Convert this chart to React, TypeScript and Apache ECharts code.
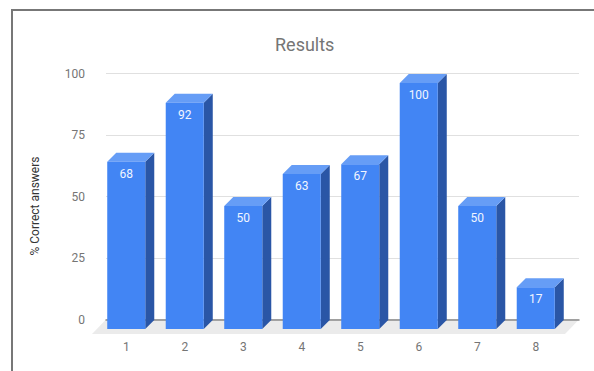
import React, { useEffect, useRef } from "react";
import * as echarts from "echarts";

const categories = ["1", "2", "3", "4", "5", "6", "7", "8"];
const values = [68, 92, 50, 63, 67, 100, 50, 17];
const yTicks = { min: 0, max: 100, interval: 25 };
const titleText = "Results";
const yAxisTitle = "% Correct answers";

const FRONT = "#4285f4";
const TOP = "#669df6";
const SIDE = "#2a56a6";
const DEPTH = 9;

export default function App() {
  const ref = useRef<HTMLDivElement>(null);
  useEffect(() => {
    if (!ref.current) return;
    const chart = echarts.init(ref.current, undefined, { renderer: "svg" });
    const font = "Roboto, Arial, sans-serif";
    chart.setOption({
      animation: false,
      backgroundColor: "#ffffff",
      textStyle: { fontFamily: font },
      title: {
        text: titleText,
        left: 270,
        top: 30,
        textStyle: { fontFamily: font, fontSize: 18, fontWeight: "normal", color: "#757575" },
      },
      graphic: [
        {
          type: "polygon",
          z: -5,
          silent: true,
          shape: { points: [[106, 319.5], [579, 319.5], [565, 334], [92, 334]] },
          style: { fill: "#ebebeb" },
        },
        {
          type: "line",
          z: 10,
          silent: true,
          shape: { x1: 11, y1: 10, x2: 600, y2: 10 },
          style: { stroke: "#777777", lineWidth: 2 },
        },
        {
          type: "line",
          z: 10,
          silent: true,
          shape: { x1: 12, y1: 9, x2: 12, y2: 380 },
          style: { stroke: "#777777", lineWidth: 2 },
        },
      ],
      grid: [
        { left: 106, right: 15, top: 73.5, bottom: 51.5 },
        { left: 97, right: 29, top: 83, bottom: 42 },
      ],
      xAxis: [
        {
          type: "category",
          gridIndex: 0,
          data: categories,
          axisLabel: { show: false },
          axisTick: { show: false },
          axisLine: { show: true, lineStyle: { color: "#8a8a8a", width: 1.5 } },
        },
        {
          type: "category",
          gridIndex: 1,
          data: categories,
          axisLine: { show: false },
          axisTick: { show: false },
          axisLabel: { color: "#757575", fontSize: 12, margin: 12, fontFamily: font },
        },
      ],
      yAxis: [
        {
          type: "value",
          gridIndex: 0,
          min: yTicks.min,
          max: yTicks.max,
          interval: yTicks.interval,
          axisLine: { show: false },
          axisTick: { show: false },
          axisLabel: { color: "#757575", fontSize: 12, margin: 21, fontFamily: font },
          splitLine: { lineStyle: { color: "#e0e0e0", width: 1 } },
        },
        {
          type: "value",
          gridIndex: 1,
          min: yTicks.min,
          max: yTicks.max,
          interval: yTicks.interval,
          name: yAxisTitle,
          nameLocation: "middle",
          nameRotate: 90,
          nameGap: 56,
          nameTextStyle: { color: "#333333", fontSize: 12, fontFamily: font },
          axisLine: { show: false },
          axisTick: { show: false },
          axisLabel: { show: false },
          splitLine: { show: false },
        },
      ],
      series: [
        {
          type: "custom",
          xAxisIndex: 1,
          yAxisIndex: 1,
          data: values.map((v, i) => [i, v]),
          renderItem: (params: any, api: any) => {
            const i = api.value(0);
            const v = api.value(1);
            const base = api.coord([i, 0]);
            const top = api.coord([i, v]);
            const w = api.size([1, 0])[0] * 0.65;
            const xl = base[0] - w / 2;
            const xr = base[0] + w / 2;
            const yb = base[1];
            const yt = top[1];
            const d = DEPTH;
            return {
              type: "group",
              children: [
                {
                  type: "polygon",
                  shape: { points: [[xr, yt], [xr + d, yt - d], [xr + d, yb - d], [xr, yb]] },
                  style: { fill: SIDE },
                },
                {
                  type: "polygon",
                  shape: { points: [[xl, yt], [xr, yt], [xr + d, yt - d], [xl + d, yt - d]] },
                  style: { fill: TOP },
                },
                {
                  type: "rect",
                  shape: { x: xl, y: yt, width: w, height: yb - yt },
                  style: { fill: FRONT },
                },
                {
                  type: "text",
                  style: {
                    text: String(v),
                    x: base[0],
                    y: yt + 12,
                    align: "center",
                    verticalAlign: "middle",
                    fill: "#f1f5ff",
                    fontSize: 12,
                    fontFamily: font,
                  },
                },
              ],
            };
          },
        },
      ],
    });
    return () => chart.dispose();
  }, []);
  return (
    <div
      ref={ref}
      style={{ position: "absolute", left: 0, top: 0, width: 594, height: 371 }}
    />
  );
}
